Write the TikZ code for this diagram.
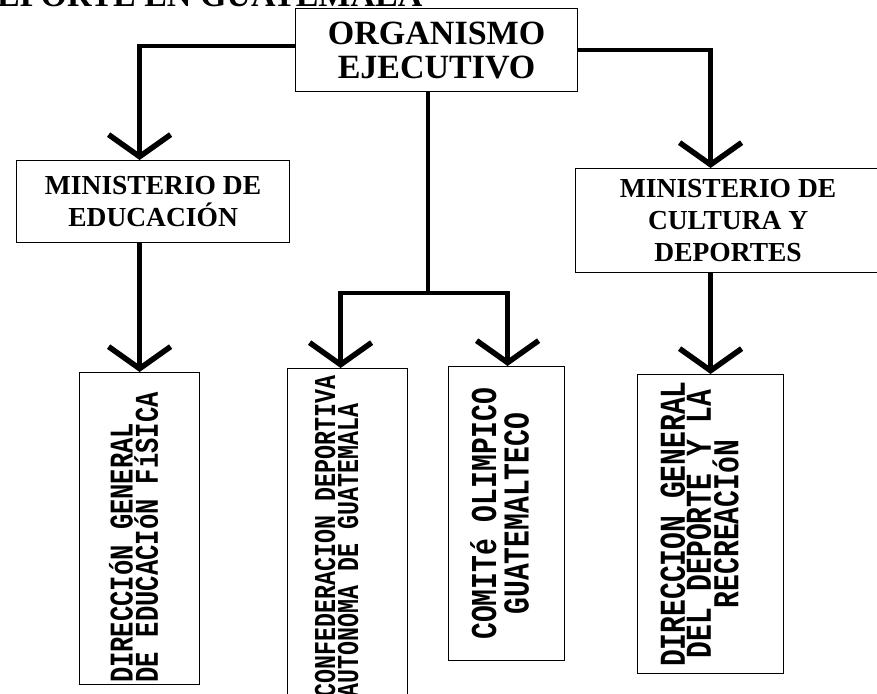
\documentclass[tikz,border=0pt]{standalone}
\usepackage{fontspec}
\setmainfont{Liberation Serif}
\newfontfamily\typefont{Liberation Mono}
\usetikzlibrary{arrows.meta,positioning}
\tikzset{box/.style={draw, line width=1.2pt, rectangle, inner sep=0pt, align=center, anchor=north west, text=black}, vtext/.style={rotate=90, yscale=1.3, inner sep=0pt, text=black}, link/.style={line width=4.5pt}, >={Straight Barb[length=22pt,width=62pt,line width=5.5pt]}}

\begin{document}
\begin{tikzpicture}[x=1pt, y=-1pt]
    \useasboundingbox (0,0) rectangle (877,693);
    \clip (0,0) rectangle (877,693);
    \node[anchor=base west, inner sep=0pt, font={\fontsize{34}{34}\selectfont\bfseries}] (title) at (-3,7) {EPORTE EN GUATEMALA};
    \node[box, minimum width=282pt, minimum height=83pt, font={\fontsize{34}{34}\selectfont\bfseries}] (org) at (295,8) {ORGANISMO\\EJECUTIVO};
    \node[box, minimum width=273pt, minimum height=82pt, font={\fontsize{27.5}{32}\selectfont\bfseries}] (edu) at (16,160) {MINISTERIO DE\\EDUCACIÓN};
    \node[box, minimum width=305pt, minimum height=104pt, font={\fontsize{27.5}{32}\selectfont\bfseries}] (cul) at (575,168) {MINISTERIO DE\\CULTURA Y\\DEPORTES};
    \node[box, minimum width=120pt, minimum height=312pt] (dgef) at (79,372) {};
    \node[box, minimum width=120pt, minimum height=342pt] (cdag) at (287,368) {};
    \node[box, minimum width=116pt, minimum height=294pt] (cog) at (448,366) {};
    \node[box, minimum width=146pt, minimum height=299pt] (dgdr) at (637,374) {};
    % vertical labels
    \node[vtext, align=left, font={\fontsize{25.5}{17.7}\selectfont\typefont\bfseries}] (dgef text) at ([shift={(-6,9)}]dgef.center) {DIRECCIóN GENERAL\\DE EDUCACIóN FíSICA};
    \node[vtext, align=left, font={\fontsize{23.3}{17.7}\selectfont\typefont\bfseries}] (cdag text) at ([shift={(-11,-3)}]cdag.center) {CONFEDERACION DEPORTIVA\\AUTONOMA DE GUATEMALA};
    \node[vtext, align=center, font={\fontsize{28}{25}\selectfont\typefont\bfseries}] (cog text) at ([shift={(-7,0)}]cog.center) {COMITé OLIMPICO\\GUATEMALTECO};
    \node[vtext, align=center, font={\fontsize{28}{18.5}\selectfont\typefont\bfseries}] (dgdr text) at ([shift={(-11,0)}]dgdr.center) {DIRECCION GENERAL\\DEL DEPORTE Y LA\\RECREACIóN};
    % connectors
    \coordinate (fork) at (428,293);
    \draw[link,->] ([yshift=4pt]org.west) -| (edu.north -| dgef.north);
    \draw[link,->] (edu.south -| dgef.north) -- (dgef.north);
    \draw[link,->] (org.east) -| (cul.north -| dgdr.north);
    \draw[link,->] (cul.south -| dgdr.north) -- (dgdr.north);
    \draw[link] (org.south -| fork) -- (fork);
    \draw[link,<->] ([xshift=-7pt]cdag.north) |- (fork) -| ([xshift=1pt]cog.north);
\end{tikzpicture}
\end{document}
